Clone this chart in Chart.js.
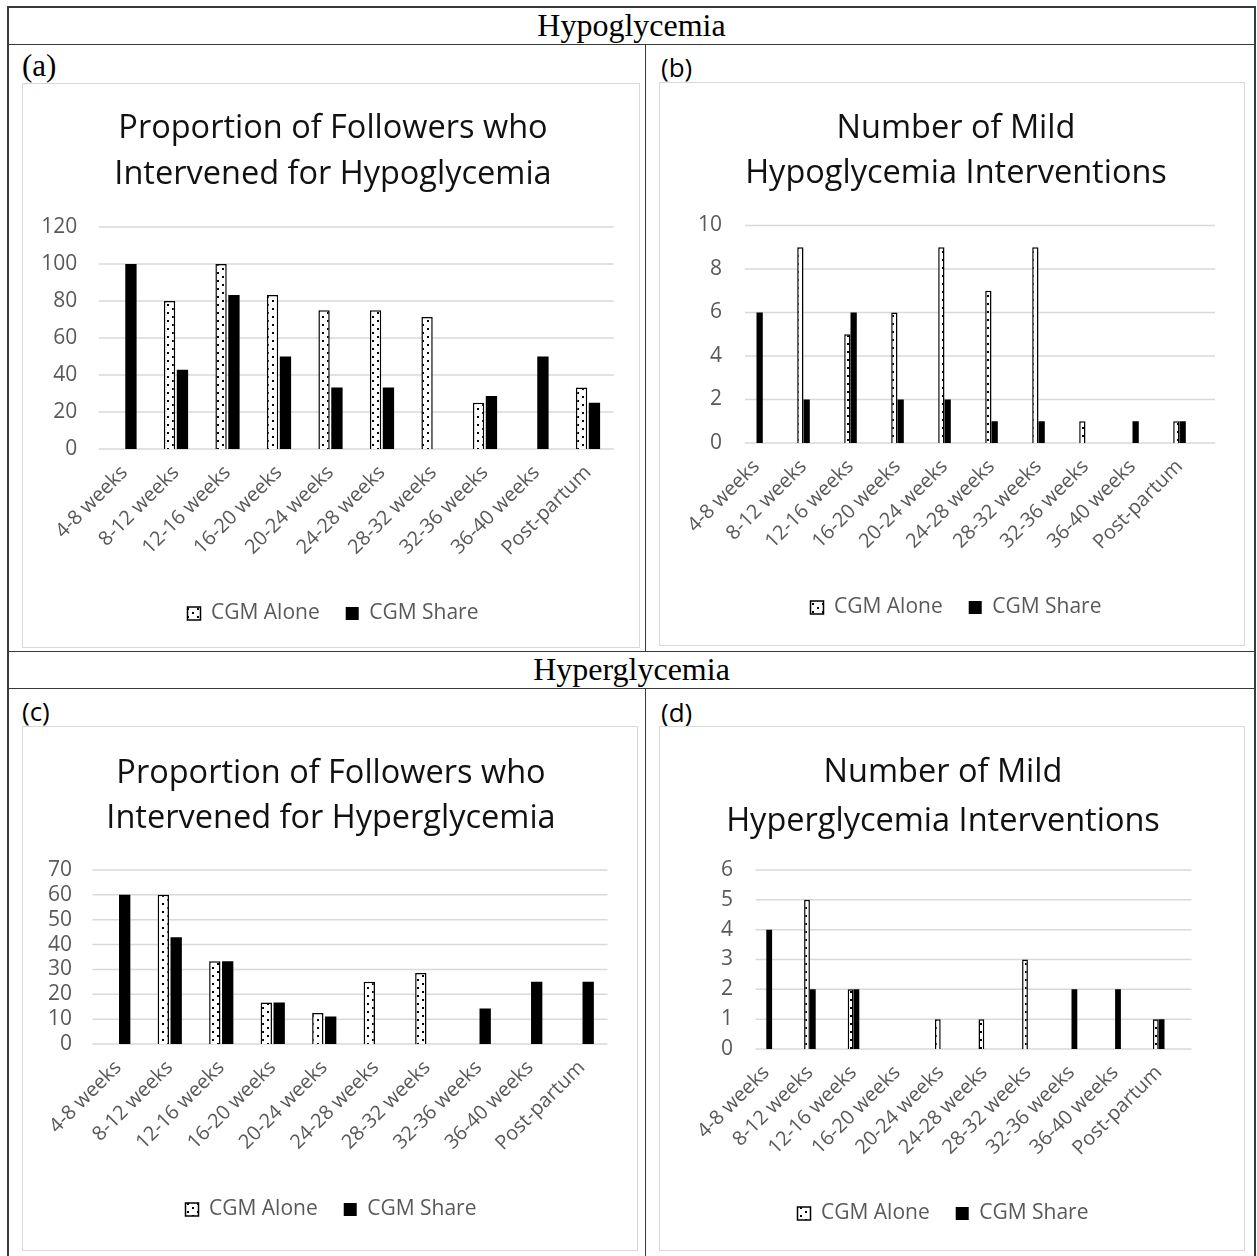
<!DOCTYPE html>
<html>
<head>
<meta charset="utf-8">
<script src="https://cdn.jsdelivr.net/npm/chart.js@4.4.0/dist/chart.umd.min.js"></script>
<style>
  html, body { margin: 0; padding: 0; background: #fff; }
  body { width: 1257px; height: 1256px; position: relative; overflow: hidden; }
  .ln { position: absolute; background: #3a3a3a; }
  .hdr { position: absolute; left: 8px; width: 1247px; text-align: center;
         font-family: 'Liberation Serif', 'Times New Roman', serif; font-size: 32px; color: #000; }
  .tag { position: absolute; color: #000; line-height: 32px; }
  .serif { font-family: 'Liberation Serif', 'Times New Roman', serif; font-size: 31px; }
  .sans { font-family: 'Open Sans', sans-serif; font-size: 26px; }
  .box { position: absolute; border: 1px solid #d9d9d9; box-sizing: border-box; }
  canvas { position: absolute; }
</style>
</head>
<body>

<!-- table grid -->
<div class="ln" style="left:7px;top:6px;width:1249px;height:1.5px"></div>
<div class="ln" style="left:7px;top:6px;width:1.5px;height:1250px"></div>
<div class="ln" style="left:1254px;top:6px;width:1.5px;height:1250px"></div>
<div class="ln" style="left:7px;top:43.5px;width:1249px;height:1.5px"></div>
<div class="ln" style="left:7px;top:650.5px;width:1249px;height:1.5px"></div>
<div class="ln" style="left:7px;top:687.5px;width:1249px;height:1.5px"></div>
<div class="ln" style="left:644.5px;top:44px;width:1.5px;height:607px"></div>
<div class="ln" style="left:644.5px;top:688px;width:1.5px;height:570px"></div>

<div class="hdr" style="top:7px;line-height:37px">Hypoglycemia</div>
<div class="hdr" style="top:651px;line-height:37px">Hyperglycemia</div>

<div class="tag serif" style="left:22px;top:50px">(a)</div>
<div class="tag sans" style="left:661px;top:51px">(b)</div>
<div class="tag sans" style="left:22px;top:695px">(c)</div>
<div class="tag sans" style="left:661px;top:696px">(d)</div>

<div class="box" style="left:22px;top:83px;width:618px;height:565px"></div>
<div class="box" style="left:659px;top:82px;width:586px;height:564px"></div>
<div class="box" style="left:22px;top:726px;width:616px;height:525px"></div>
<div class="box" style="left:659px;top:726px;width:586px;height:525px"></div>

<canvas id="chA" width="606" height="565" style="left:30px;top:83px"></canvas>
<canvas id="chB" width="552" height="564" style="left:680px;top:82px"></canvas>
<canvas id="chC" width="582" height="525" style="left:40px;top:726px"></canvas>
<canvas id="chD" width="525" height="525" style="left:688px;top:726px"></canvas>

<script>
// Gestational periods shared by all four panels
const weeks = ['4-8 weeks', '8-12 weeks', '12-16 weeks', '16-20 weeks', '20-24 weeks',
               '24-28 weeks', '28-32 weeks', '32-36 weeks', '36-40 weeks', 'Post-partum'];
const seriesNames = ['CGM Alone', 'CGM Share'];

// (a) proportion of followers who intervened for hypoglycemia (%)
const hypoPropAlone = [null, 80, 100, 83.3, 75, 75, 71.4, 25, null, 33.3];
const hypoPropShare = [100, 42.9, 83.3, 50, 33.3, 33.3, null, 28.6, 50, 25];

// (b) number of mild hypoglycemia interventions
const hypoMildAlone = [null, 9, 5, 6, 9, 7, 9, 1, null, 1];
const hypoMildShare = [6, 2, 6, 2, 2, 1, 1, null, 1, 1];

// (c) proportion of followers who intervened for hyperglycemia (%)
const hyperPropAlone = [null, 60, 33.3, 16.7, 12.5, 25, 28.6, null, null, null];
const hyperPropShare = [60, 42.9, 33.3, 16.7, 11.1, null, null, 14.3, 25, 25];

// (d) number of mild hyperglycemia interventions
const hyperMildAlone = [null, 5, 2, null, 1, 1, 3, null, null, 1];
const hyperMildShare = [4, 2, 2, null, null, null, null, 2, 2, 1];

// Value-axis ranges
const axisA = { max: 120, step: 20 };
const axisB = { max: 10, step: 2 };
const axisC = { max: 70, step: 10 };
const axisD = { max: 6, step: 1 };

const titleA = ['Proportion of Followers who', 'Intervened for Hypoglycemia'];
const titleB = ['Number of Mild', 'Hypoglycemia Interventions'];
const titleC = ['Proportion of Followers who', 'Intervened for Hyperglycemia'];
const titleD = ['Number of Mild', 'Hyperglycemia Interventions'];

Chart.defaults.font.family = "'Open Sans', sans-serif";

// Horizontal value gridlines, drawn from the y scale's ticks with an optional shift
const valueGrid = {
  id: 'valueGrid',
  beforeDatasetsDraw(chart, args, opts) {
    const ys = chart.scales.y, area = chart.chartArea, c = chart.ctx;
    c.save();
    c.strokeStyle = '#d9d9d9';
    c.lineWidth = 1.5;
    ys.ticks.forEach(t => {
      const py = ys.getPixelForValue(t.value);
      c.beginPath();
      c.moveTo(area.left + opts.shift, py);
      c.lineTo(area.right + opts.shift, py);
      c.stroke();
    });
    c.restore();
  }
};

// Dotted fill tile for the "CGM Alone" series
const tile = document.createElement('canvas');
tile.width = 10; tile.height = 8;
(function () {
  const g = tile.getContext('2d');
  g.fillStyle = '#fff'; g.fillRect(0, 0, 10, 8);
  g.fillStyle = '#000';
  g.fillRect(2, 1, 2, 2);
  g.fillRect(7, 5, 2, 2);
})();

function build(id, o) {
  const ctx = document.getElementById(id).getContext('2d');
  const dots = ctx.createPattern(tile, 'repeat');
  return new Chart(ctx, {
    type: 'bar',
    plugins: [valueGrid],
    data: {
      labels: weeks,
      datasets: [
        { label: seriesNames[0], data: o.alone, backgroundColor: dots, borderColor: '#000',
          borderWidth: 1.5, categoryPercentage: o.cat, barPercentage: o.bar },
        { label: seriesNames[1], data: o.share, backgroundColor: '#000', borderColor: '#000',
          borderWidth: 0, categoryPercentage: o.cat, barPercentage: o.bar }
      ]
    },
    options: {
      responsive: false,
      animation: false,
      devicePixelRatio: 1,
      layout: { padding: { left: 0, top: 0, right: o.padR, bottom: o.padB } },
      plugins: {
        valueGrid: { shift: o.shift },
        title: {
          display: true, text: o.title, color: '#111',
          font: { size: 32.5, weight: 'normal', lineHeight: o.lh / 32.5 },
          padding: { top: o.tt, bottom: o.tb }
        },
        legend: {
          position: 'bottom',
          labels: { boxWidth: 13, boxHeight: 13, padding: 26, color: '#595959', font: { size: 21 } }
        },
        tooltip: { enabled: false }
      },
      scales: {
        x: {
          grid: { display: false },
          border: { display: false },
          ticks: { color: '#595959', font: { size: 20 }, minRotation: 45, maxRotation: 45,
                   autoSkip: false, padding: 4 },
          afterFit: s => { s.height = o.hx; }
        },
        y: {
          min: 0, max: o.axis.max,
          ticks: { stepSize: o.axis.step, autoSkip: false, color: '#595959',
                   font: { size: 21 }, padding: o.yp },
          grid: { display: false, drawTicks: false },
          border: { display: false },
          afterFit: s => { s.width = o.yw; }
        },
        // empty spacer on the right so the title and legend sit over the plot
        yR: {
          type: 'linear', position: 'right', display: true,
          grid: { display: false, drawTicks: false }, border: { display: false },
          ticks: { display: false },
          afterFit: s => { s.width = o.rw; }
        }
      }
    }
  });
}

build('chA', { alone: hypoPropAlone, share: hypoPropShare, axis: axisA, title: titleA,
  lh: 46, tt: 23, tb: 29, padR: 0, padB: 14, yw: 68.75, yp: 21.5, rw: 22.25,
  hx: 128, cat: 0.5, bar: 0.88, shift: 0 });

build('chB', { alone: hypoMildAlone, share: hypoMildShare, axis: axisB, title: titleB,
  lh: 45, tt: 24, tb: 29.5, padR: 0, padB: 18, yw: 53, yp: 11, rw: 29,
  hx: 128, cat: 0.268, bar: 1, shift: 12 });

build('chC', { alone: hyperPropAlone, share: hyperPropShare, axis: axisC, title: titleC,
  lh: 45, tt: 25, tb: 29, padR: 0, padB: 21, yw: 52.5, yp: 20.5, rw: 14.5,
  hx: 129, cat: 0.5, bar: 0.88, shift: 0 });

build('chD', { alone: hyperMildAlone, share: hyperMildShare, axis: axisD, title: titleD,
  lh: 49, tt: 22, tb: 24, padR: 15, padB: 17, yw: 56.5, yp: 11.5, rw: 17.5,
  hx: 128, cat: 0.266, bar: 1, shift: 11 });
</script>
</body>
</html>
